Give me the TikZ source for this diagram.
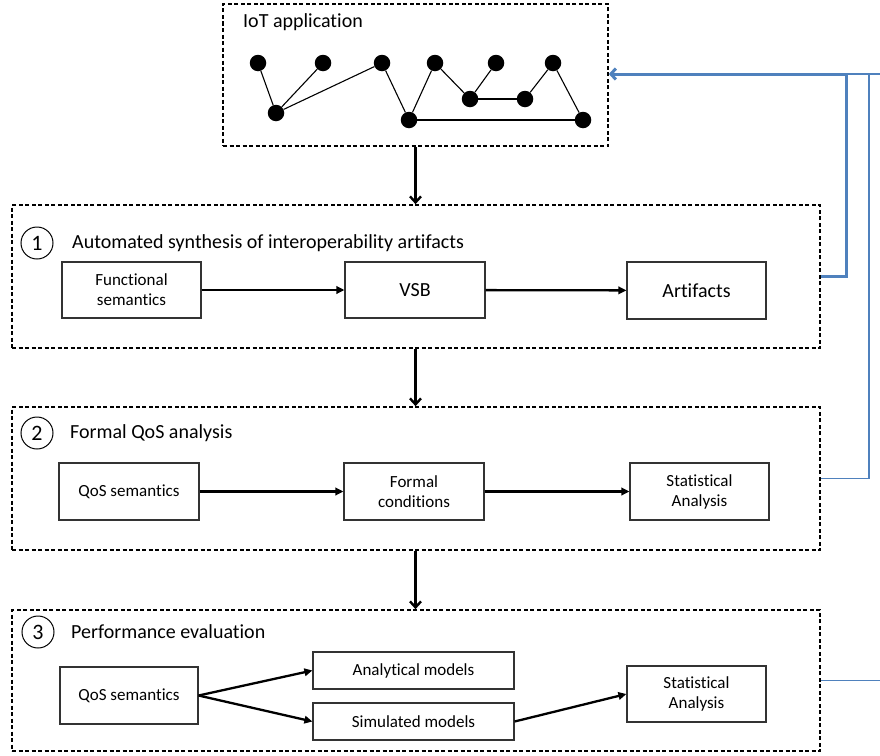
\documentclass[tikz,border=0pt]{standalone}
\usepackage{fontspec}
\setmainfont{Carlito}[Ligatures=NoCommon]
\usetikzlibrary{arrows.meta}
\definecolor{fbblue}{HTML}{4F81BD}
\begin{document}
\begin{tikzpicture}[x=1pt,y=-1pt,
  grp/.style={draw, line width=1.7pt, dash pattern=on 4pt off 2.5pt, minimum width=808pt, inner sep=0pt},
  box/.style={draw, draw=black!80, line width=1.2pt, fill=white, align=center, inner sep=0pt, font=\fontsize{17}{20}\selectfont},
  bigtxt/.style={font=\fontsize{20}{22}\selectfont},
  dot/.style={circle, fill=black, minimum size=16.5pt, inner sep=0pt},
  num/.style={circle, draw, line width=1pt, minimum size=32pt, inner sep=0pt, font=\fontsize{22}{24}\selectfont},
  ttl/.style={anchor=west, font=\fontsize{20}{23}\selectfont, inner sep=0pt},
  flow/.style={-{Triangle[length=8pt,width=7.5pt]}, line width=2.3pt},
  down/.style={-{Straight Barb[length=6pt,width=11pt]}, line width=2.4pt},
  fbthick/.style={draw=fbblue, line width=3pt},
  fbthin/.style={draw=fbblue, line width=1.3pt},
  edge/.style={line width=1.1pt}
]
\useasboundingbox (0,0) rectangle (880,755);

% IoT application box
\node[draw, line width=1.7pt, dash pattern=on 4pt off 2.5pt, minimum width=385pt, minimum height=142pt, inner sep=0pt] (iot) at (415.5,75) {};
\node[ttl] (iott) at (243,22) {IoT application};

\node[dot] (d1) at (258,63) {};
\node[dot] (d2) at (323,63) {};
\node[dot] (d3) at (382,63) {};
\node[dot] (d4) at (435,63) {};
\node[dot] (d5) at (496,63) {};
\node[dot] (d6) at (553,63) {};
\node[dot] (e1) at (276,113) {};
\node[dot] (e2) at (470,99) {};
\node[dot] (e3) at (525,99) {};
\node[dot] (f1) at (409,120) {};
\node[dot] (f2) at (583,120) {};
\draw[edge] (d1) -- (e1);
\draw[edge] (d2) -- (e1);
\draw[edge] (d3) -- (e1);
\draw[edge] (d3) -- (f1);
\draw[edge] (d4) -- (f1);
\draw[edge] (d4) -- (e2);
\draw[edge] (d5) -- (e2);
\draw[edge] (e2) -- (e3);
\draw[edge] (e3) -- (d6);
\draw[edge] (d6) -- (f2);
\draw[edge] (f1) -- (f2);

% Group boxes
\node[grp, minimum height=143pt] (g1) at (416,276.5) {};
\node[grp, minimum height=143pt] (g2) at (416,478.5) {};
\node[grp, minimum height=141pt] (g3) at (416,680.5) {};

% Group 1
\node[num] (c1) at (37,243) {1};
\node[ttl] (t1) at (72,243) {Automated synthesis of interoperability artifacts};
\node[box, minimum width=139pt, minimum height=56pt] (fs) at (131.5,290) {Functional\\semantics};
\node[box, bigtxt, minimum width=140pt, minimum height=56pt] (vsb) at (415,290) {VSB};
\node[box, bigtxt, minimum width=139pt, minimum height=57pt] (art) at (696.5,290.5) {Artifacts};
\draw[flow] (fs) -- (vsb);
\draw[flow] (vsb) -- (art);

% Group 2
\node[num] (c2) at (37,433) {2};
\node[ttl] (t2) at (70,433) {Formal QoS analysis};
\node[box, minimum width=140pt, minimum height=57pt] (qos2) at (129,491.5) {QoS semantics};
\node[box, minimum width=140pt, minimum height=57pt] (fc) at (414,491.5) {Formal\\conditions};
\node[box, minimum width=139pt, minimum height=57pt] (sa2) at (699.5,491.5) {Statistical\\Analysis};
\draw[flow] (qos2) -- (fc);
\draw[flow] (fc) -- (sa2);

% Group 3
\node[num] (c3) at (38,632) {3};
\node[ttl] (t3) at (71,632) {Performance evaluation};
\node[box, minimum width=138pt, minimum height=57pt] (qos3) at (129,695.5) {QoS semantics};
\node[box, minimum width=201pt, minimum height=37pt] (am) at (413.5,670.5) {Analytical models};
\node[box, minimum width=201pt, minimum height=37pt] (sm) at (413.5,721.5) {Simulated models};
\node[box, minimum width=139pt, minimum height=56pt] (sa3) at (696.5,694) {Statistical\\Analysis};
\draw[flow] (qos3.east) -- (am.west);
\draw[flow] (qos3.east) -- (sm.west);
\draw[flow] (sm.east) -- (sa3.west);

% Vertical arrows
\draw[down] (iot.south) -- (iot.south |- g1.north);
\draw[down] (g1.south -| iot.south) -- (iot.south |- g2.north);
\draw[down] (g2.south -| iot.south) -- (iot.south |- g3.north);

% Feedback lines
\coordinate (j) at (846,74);
\coordinate (k) at (869,74);
\coordinate (edge1) at (880,74);
\coordinate (edge3) at (880,680.5);
\draw[fbthick, -{Straight Barb[length=5pt,width=11pt]}] (g1.east) -| (j) -- (iot.east |- j);
\draw[fbthin] (j) -- (edge1);
\draw[fbthin] (g2.east) -| (k);
\draw[fbthin] (g3.east) -- (edge3);
\end{tikzpicture}
\end{document}
